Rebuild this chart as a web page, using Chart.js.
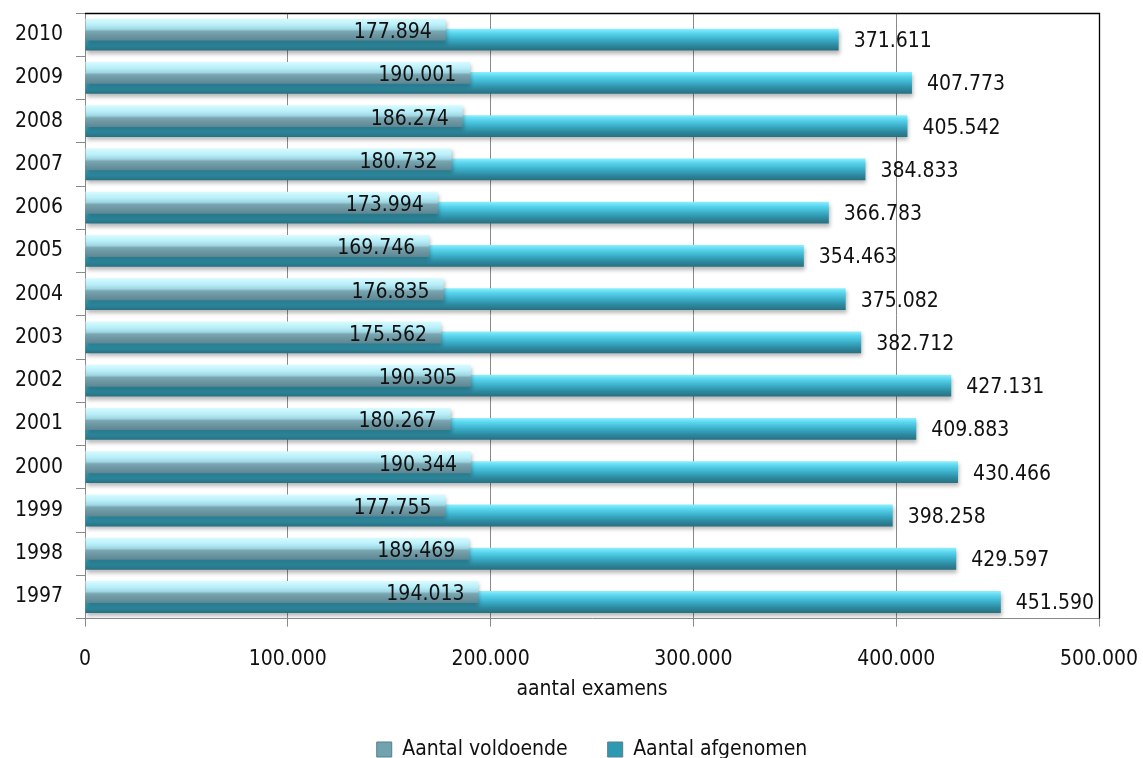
<!DOCTYPE html>
<html>
<head>
<meta charset="utf-8">
<script src="https://cdn.jsdelivr.net/npm/chart.js@4/dist/chart.umd.min.js"></script>
<style>
  html, body { margin: 0; padding: 0; background: #fff; }
  #wrap { width: 1143px; height: 758px; }
</style>
</head>
<body>
<div id="wrap"><canvas id="c" width="1143" height="758"></canvas></div>
<script>
const years = ['2010','2009','2008','2007','2006','2005','2004','2003','2002','2001','2000','1999','1998','1997'];
const voldoende = [177894,190001,186274,180732,173994,169746,176835,175562,190305,180267,190344,177755,189469,194013];
const afgenomen = [371611,407773,405542,384833,366783,354463,375082,382712,427131,409883,430466,398258,429597,451590];
const seriesNames = ['Aantal voldoende', 'Aantal afgenomen'];
const xTitle = 'aantal examens';

const FONT = '"DejaVu Sans Condensed", "DejaVu Sans", sans-serif';
const FS = 21;

function fmt(v) {
  return String(Math.round(v)).replace(/\B(?=(\d{3})+(?!\d))/g, '.');
}

const CAT_PCT = 0.46, BAR_PCT = 2.2;

function barGradient(ctx, stops, fallback) {
  const chart = ctx.chart;
  if (!chart.chartArea || ctx.type !== 'data') return fallback;
  const y = chart.scales.y;
  const center = y.getPixelForValue(ctx.dataIndex);
  const cat = (y.bottom - y.top) / years.length;
  const slot = cat * CAT_PCT / 2;
  const size = slot * BAR_PCT;
  const c = center - cat * CAT_PCT / 2 + slot * ctx.datasetIndex + slot / 2;
  const g = chart.ctx.createLinearGradient(0, c - size / 2, 0, c + size / 2);
  stops.forEach(s => g.addColorStop(s[0], s[1]));
  return g;
}

const stopsV = [[0,'#d8fbff'],[0.28,'#b8eff9'],[0.48,'#9fd6e2'],[0.58,'#7aa6b1'],[0.8,'#6a95a0'],[1,'#5e8692']];
const stopsA = [[0,'#8ef0fd'],[0.2,'#5ad6ef'],[0.5,'#3aaec8'],[0.75,'#2d8ba1'],[1,'#276f80']];

const shadowPlugin = {
  id: 'shadow',
  beforeDatasetDraw(chart) {
    const c = chart.ctx;
    c.save();
    c.shadowColor = 'rgba(0,0,0,0.28)';
    c.shadowBlur = 4;
    c.shadowOffsetY = 3;
    c.shadowOffsetX = 1;
  },
  afterDatasetDraw(chart) {
    chart.ctx.restore();
  }
};

const labelPlugin = {
  id: 'valueLabels',
  afterDatasetsDraw(chart) {
    const c = chart.ctx;
    c.save();
    c.font = FS + 'px ' + FONT;
    c.fillStyle = '#111';
    c.textBaseline = 'middle';
    const m0 = chart.getDatasetMeta(0);
    const m1 = chart.getDatasetMeta(1);
    m1.data.forEach((el, i) => {
      c.textAlign = 'left';
      c.fillText(fmt(afgenomen[i]), el.x + 15, el.y + 2);
    });
    m0.data.forEach((el, i) => {
      c.textAlign = 'right';
      c.fillText(fmt(voldoende[i]), el.x - 14, el.y + 3);
    });
    const a = chart.chartArea;
    c.strokeStyle = '#000';
    c.lineWidth = 1.3;
    c.beginPath();
    c.moveTo(a.left, a.top + 0.5);
    c.lineTo(a.right + 0.5, a.top + 0.5);
    c.lineTo(a.right + 0.5, a.bottom);
    c.stroke();
    c.restore();
  }
};

new Chart(document.getElementById('c'), {
  type: 'bar',
  data: {
    labels: years,
    datasets: [
      {
        label: seriesNames[0],
        data: voldoende,
        backgroundColor: (ctx) => barGradient(ctx, stopsV, '#7fb0bb'),
        borderWidth: 0,
        categoryPercentage: CAT_PCT,
        barPercentage: BAR_PCT
      },
      {
        label: seriesNames[1],
        data: afgenomen,
        backgroundColor: (ctx) => barGradient(ctx, stopsA, '#2f9ab3'),
        borderWidth: 0,
        categoryPercentage: CAT_PCT,
        barPercentage: BAR_PCT
      }
    ]
  },
  options: {
    indexAxis: 'y',
    responsive: false,
    animation: false,
    devicePixelRatio: 1,
    layout: { padding: { top: 13, right: 44, left: 0, bottom: -12 } },
    scales: {
      x: {
        min: 0, max: 500000,
        ticks: {
          stepSize: 100000,
          callback: v => fmt(v),
          font: { family: FONT, size: FS },
          color: '#111',
          padding: 20.5,
          maxRotation: 0
        },
        grid: { color: '#8a8a8a', lineWidth: 1, tickLength: 8, drawTicks: true },
        border: { color: '#8a8a8a' },
        title: {
          display: true,
          text: xTitle,
          font: { family: FONT, size: FS },
          color: '#111',
          padding: { top: -16, bottom: 27 }
        },
        afterFit(scale) { scale.paddingLeft = 0; scale.paddingRight = 0; }
      },
      y: {
        ticks: {
          font: { family: FONT, size: FS },
          color: '#111',
          padding: 13
        },
        grid: { drawOnChartArea: false, color: '#8a8a8a', tickLength: 9, offset: true },
        border: { color: '#8a8a8a' },
        afterFit(scale) { scale.width = 85; scale.paddingTop = 0; scale.paddingBottom = 0; }
      }
    },
    plugins: {
      legend: {
        position: 'bottom',
        fullSize: false,
        labels: {
          font: { family: FONT, size: FS },
          color: '#111',
          boxWidth: 15,
          boxHeight: 15,
          padding: 10,
          generateLabels(chart) {
            const cols = ['#6fa3b0', '#2e99b3'];
            return seriesNames.map((n, i) => ({
              text: i === 0 ? n + '     ' : n,
              fillStyle: cols[i], strokeStyle: '#5a7c86', lineWidth: 1,
              hidden: false, datasetIndex: i, fontColor: '#111'
            }));
          }
        }
      },
      tooltip: { enabled: false }
    }
  },
  plugins: [shadowPlugin, labelPlugin]
});
</script>
</body>
</html>
